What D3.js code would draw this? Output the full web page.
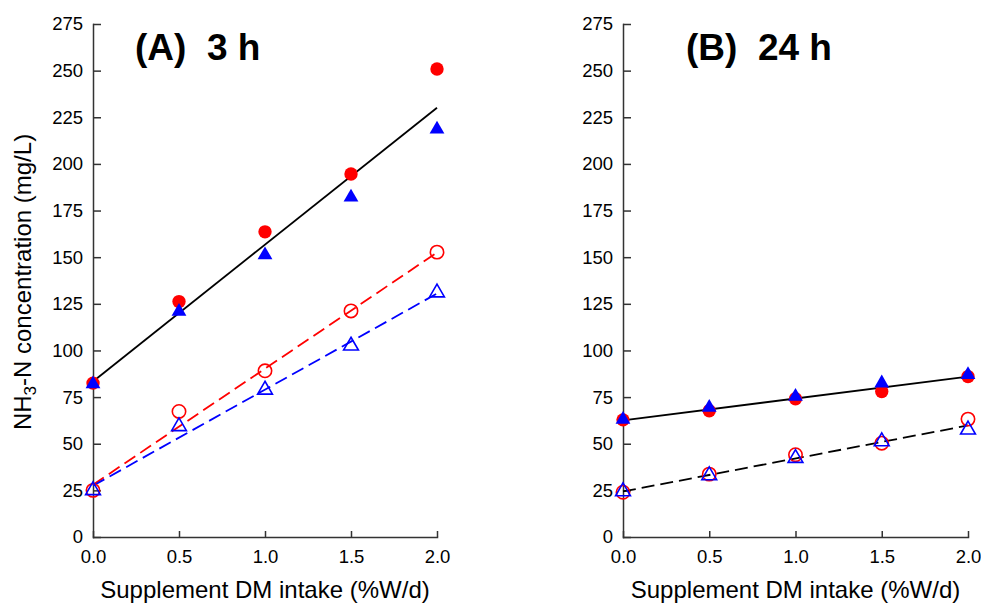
<!DOCTYPE html>
<html>
<head>
	<meta charset="utf-8">
	<title>NH3-N concentration</title>
	<script type="text/javascript" src="https://cdn.jsdelivr.net/npm/d3@7"></script>
	<style>
		body {
			font-family: "Liberation Sans", Arial, Helvetica, sans-serif;
			margin: 0;
			background: #fff;
		}
	</style>
</head>

<body>

	<div id="chart"></div>

	<script>

	// data

	const doses  = [0, 0.5, 1.0, 1.5, 2.0];
	const xTicks = [0, 0.5, 1.0, 1.5, 2.0];
	const yTicks = [0, 25, 50, 75, 100, 125, 150, 175, 200, 225, 250, 275];
	const fitX   = [0, 2.0];

	// (A) 3 h
	const a3hRedFilled   = [82.5, 126.2, 163.6, 194.6, 250.9];
	const a3hBlueFilled  = [82, 120.9, 151.2, 182.1, 218.6];
	const a3hRedOpen     = [25, 67.3, 89.1, 121.2, 152.7];
	const a3hBlueOpen    = [25, 59.3, 78.9, 102.5, 131];
	const a3hFitFilled   = [83.4, 230.1];
	const a3hFitRedOpen  = [28, 152.5];
	const a3hFitBlueOpen = [27.5, 130.5];

	// (B) 24 h
	const b24hRedFilled  = [62.8, 67.7, 74.1, 78, 86];
	const b24hBlueFilled = [63, 69.4, 75.3, 82.5, 87];
	const b24hRedOpen    = [24, 33.7, 44.1, 50.3, 63.2];
	const b24hBlueOpen   = [24.4, 33, 42.3, 51.2, 57.5];
	const b24hFitFilled  = [62.5, 86];
	const b24hFitOpen    = [24.4, 59.8];

	const width  = 981;
	const height = 604;
	const red    = "#ff0000";
	const blue   = "#0000ff";
	const axisColor = "#333";

	const svg = d3.select("#chart")
		.append("svg")
		.attr("width", width)
		.attr("height", height)
		.attr("viewBox", [0, 0, width, height]);

	function panel({ left, right, top, bottom, title, titleX, lines, markers }) {
		const x = d3.scaleLinear([0, 2], [left, right]);
		const y = d3.scaleLinear([0, 275], [bottom, top]);
		const g = svg.append("g");

		// axes
		g.append("g")
			.attr("transform", `translate(${left},0)`)
			.call(d3.axisLeft(y).tickValues(yTicks).tickSizeInner(-8).tickSizeOuter(0).tickPadding(10))
			.call(s => s.selectAll("text").style("font-size", "18.5px").attr("fill", "#000"))
			.call(s => s.selectAll("line,path").attr("stroke", axisColor).attr("stroke-width", 1.5));

		g.append("g")
			.attr("transform", `translate(0,${bottom})`)
			.call(d3.axisBottom(x).tickValues(xTicks).tickFormat(d3.format(".1f")).tickSizeInner(-6).tickSizeOuter(0).tickPadding(13))
			.call(s => s.selectAll("text").style("font-size", "18.5px").attr("fill", "#000"))
			.call(s => s.selectAll("line,path").attr("stroke", axisColor).attr("stroke-width", 1.5));

		g.selectAll(".domain").attr("stroke-linecap", "square");

		// x label
		g.append("text")
			.attr("x", (left + right) / 2)
			.attr("y", 598)
			.attr("text-anchor", "middle")
			.style("font-size", "24px")
			.text("Supplement DM intake (%W/d)");

		// title
		g.append("text")
			.attr("x", titleX)
			.attr("y", 60)
			.attr("xml:space", "preserve")
			.style("white-space", "pre")
			.style("font-size", "37px")
			.style("font-weight", "bold")
			.text(title);

		// fitted lines
		const line = d3.line().x(d => x(d[0])).y(d => y(d[1]));
		for (const l of lines) {
			g.append("path")
				.attr("fill", "none")
				.attr("stroke", l.color)
				.attr("stroke-width", 1.8)
				.attr("stroke-dasharray", l.dashed ? "13,6" : null)
				.attr("d", line(d3.zip(fitX, l.values)));
		}

		// markers
		for (const m of markers) {
			const sym = d3.symbol()
				.type(m.shape === "circle" ? d3.symbolCircle : d3.symbolTriangle)
				.size(m.shape === "circle" ? 140 : 95);
			g.append("g")
				.selectAll("path")
				.data(d3.zip(doses, m.values))
				.join("path")
				.attr("transform", d => `translate(${x(d[0])},${y(d[1])})`)
				.attr("d", sym)
				.attr("fill", m.filled ? m.color : "none")
				.attr("stroke", m.filled ? "none" : m.color)
				.attr("stroke-width", 1.6);
		}
	}

	panel({
		left: 93, right: 437, top: 24, bottom: 537,
		title: "(A)  3 h", titleX: 135,
		lines: [
			{ values: a3hFitFilled, color: "#000", dashed: false },
			{ values: a3hFitRedOpen, color: red, dashed: true },
			{ values: a3hFitBlueOpen, color: blue, dashed: true },
		],
		markers: [
			{ values: a3hRedFilled, shape: "circle", filled: true, color: red },
			{ values: a3hBlueFilled, shape: "triangle", filled: true, color: blue },
			{ values: a3hRedOpen, shape: "circle", filled: false, color: red },
			{ values: a3hBlueOpen, shape: "triangle", filled: false, color: blue },
		],
	});

	panel({
		left: 623, right: 968, top: 24, bottom: 537,
		title: "(B)  24 h", titleX: 686,
		lines: [
			{ values: b24hFitFilled, color: "#000", dashed: false },
			{ values: b24hFitOpen, color: "#000", dashed: true },
		],
		markers: [
			{ values: b24hRedFilled, shape: "circle", filled: true, color: red },
			{ values: b24hBlueFilled, shape: "triangle", filled: true, color: blue },
			{ values: b24hRedOpen, shape: "circle", filled: false, color: red },
			{ values: b24hBlueOpen, shape: "triangle", filled: false, color: blue },
		],
	});

	// y label with subscript
	const yl = svg.append("text")
		.attr("transform", "translate(31,282) rotate(-90)")
		.attr("text-anchor", "middle")
		.style("font-size", "24px");
	yl.append("tspan").text("NH");
	yl.append("tspan").attr("dy", 5).style("font-size", "17px").text("3");
	yl.append("tspan").attr("dy", -5).text("-N concentration (mg/L)");

	</script>

</body>

</html>
